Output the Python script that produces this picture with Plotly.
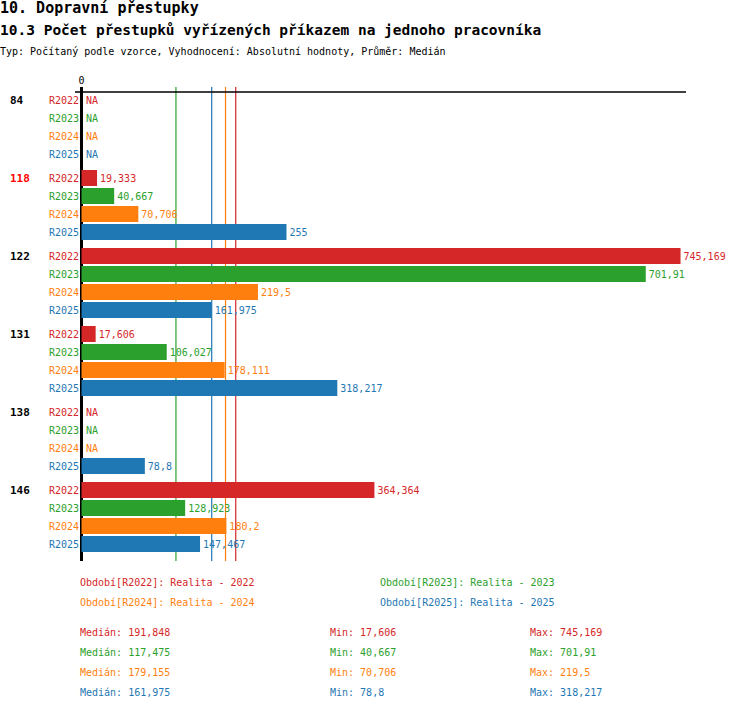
import numpy as np
import plotly.graph_objects as go

# data
skupiny = ["84", "118", "122", "131", "138", "146"]
obdobi = ["R2022", "R2023", "R2024", "R2025"]
barvy = ["#d62728", "#2ca02c", "#ff7f0e", "#1f77b4"]
popisky = ["Realita - 2022", "Realita - 2023", "Realita - 2024", "Realita - 2025"]

r2022 = [None, 19.333, 745.169, 17.606, None, 364.364]
r2023 = [None, 40.667, 701.91, 106.027, None, 128.923]
r2024 = [None, 70.706, 219.5, 178.111, None, 180.2]
r2025 = [None, 255, 161.975, 318.217, 78.8, 147.467]
hodnoty = [r2022, r2023, r2024, r2025]

median = [191.848, 117.475, 179.155, 161.975]
zvyraznena = "118"

font = "DejaVu Sans Mono"

# layout in pixels
W, H = 750, 710
L, R, T, B = 75, 64, 87, 149
PW, PH = W - L - R, H - T - B

def px(x):
    return (x - L) / PW

def py(y):
    return 1 - (y - T) / PH

def fmt(v):
    return ("%g" % v).replace(".", ",")

mezera = 1 / 3  # gap between groups in row units

fig = go.Figure()

for k in range(len(obdobi)):
    pos = [g * (4 + mezera) + k for g in range(len(skupiny))]
    vals = hodnoty[k]
    xs = [v if v is not None else np.nan for v in vals]
    txt = [fmt(v) if v is not None else "" for v in vals]
    fig.add_trace(go.Bar(
        x=xs, y=pos, orientation="h", width=16 / 18,
        marker_color=barvy[k], marker_line_width=0,
        text=txt, textposition="outside", constraintext="none",
        textfont=dict(family=font, size=10, color=barvy[k]),
        cliponaxis=False, showlegend=False, hoverinfo="skip"))
    for p, v in zip(pos, vals):
        # period label left of the axis
        fig.add_annotation(x=0, y=p, xref="x", yref="y", xanchor="right",
                           yanchor="middle", xshift=-1, text=obdobi[k],
                           showarrow=False,
                           font=dict(family=font, size=10, color=barvy[k]))
        if v is None:
            fig.add_annotation(x=0, y=p, xref="x", yref="y", xanchor="left",
                               yanchor="middle", xshift=2, text="NA",
                               showarrow=False,
                               font=dict(family=font, size=10, color=barvy[k]))

# group labels
for g, s in enumerate(skupiny):
    fig.add_annotation(
        xref="paper", yref="y", x=px(8), y=g * (4 + mezera), xanchor="left",
        yanchor="middle", text="<b>%s</b>" % s, showarrow=False,
        font=dict(family=font, size=11, color="red" if s == zvyraznena else "black"))

# median lines
for k in range(len(obdobi)):
    fig.add_shape(type="line", xref="x", yref="paper", x0=median[k], x1=median[k],
                  y0=0, y1=1, line=dict(color=barvy[k], width=1.2), layer="below")

# top axis line
fig.add_shape(type="line", xref="paper", yref="paper", x0=0, x1=1,
              y0=py(92), y1=py(92), line=dict(color="black", width=1.5))

# titles
fig.add_annotation(xref="paper", yref="paper", x=px(-2), y=py(8), xanchor="left",
                   yanchor="middle", text="<b>10. Dopravní přestupky</b>", showarrow=False,
                   font=dict(family=font, size=15, color="black"))
fig.add_annotation(xref="paper", yref="paper", x=px(-2), y=py(30), xanchor="left",
                   yanchor="middle",
                   text="<b>10.3 Počet přestupků vyřízených příkazem na jednoho pracovníka</b>",
                   showarrow=False, font=dict(family=font, size=14.5, color="black"))
fig.add_annotation(xref="paper", yref="paper", x=px(-2), y=py(51), xanchor="left",
                   yanchor="middle",
                   text="Typ: Počítaný podle vzorce, Vyhodnocení: Absolutní hodnoty, Průměr: Medián",
                   showarrow=False, font=dict(family=font, size=10, color="black"))

# legend
leg_x = [78, 378, 78, 378]
leg_y = [582, 582, 602, 602]
for k in range(len(obdobi)):
    fig.add_annotation(xref="paper", yref="paper", x=px(leg_x[k]), y=py(leg_y[k]),
                       xanchor="left", yanchor="middle", showarrow=False,
                       text="Období[%s]: %s" % (obdobi[k], popisky[k]),
                       font=dict(family=font, size=10, color=barvy[k]))

# statistics
for k in range(len(obdobi)):
    vals = [v for v in hodnoty[k] if v is not None]
    yy = py(632 + 20 * k)
    for xx, t in [(78, "Medián: " + fmt(median[k])),
                  (328, "Min: " + fmt(min(vals))),
                  (528, "Max: " + fmt(max(vals)))]:
        fig.add_annotation(xref="paper", yref="paper", x=px(xx), y=yy,
                           xanchor="left", yanchor="middle", showarrow=False, text=t,
                           font=dict(family=font, size=10, color=barvy[k]))

x0 = -6.5 / 0.8039
x1 = (L + PW - 81.5) / 0.8039
y_top = -13 / 18
y_bot = (T + PH - 100) / 18

fig.update_xaxes(range=[x0, x1], side="top", tickvals=[0], ticktext=["0"],
                 ticks="", showgrid=False, zeroline=True, zerolinewidth=3,
                 zerolinecolor="black", showline=False,
                 tickfont=dict(family=font, size=10, color="black"))
fig.update_yaxes(range=[y_bot, y_top], showticklabels=False, ticks="",
                 showgrid=False, zeroline=False, showline=False)
fig.update_layout(width=W, height=H, margin=dict(l=L, r=R, t=T, b=B),
                  barmode="overlay", plot_bgcolor="white", paper_bgcolor="white",
                  font=dict(family=font))

fig.write_html("out.html", config={"displayModeBar": False},
               post_script="document.body.style.margin='0px';")
